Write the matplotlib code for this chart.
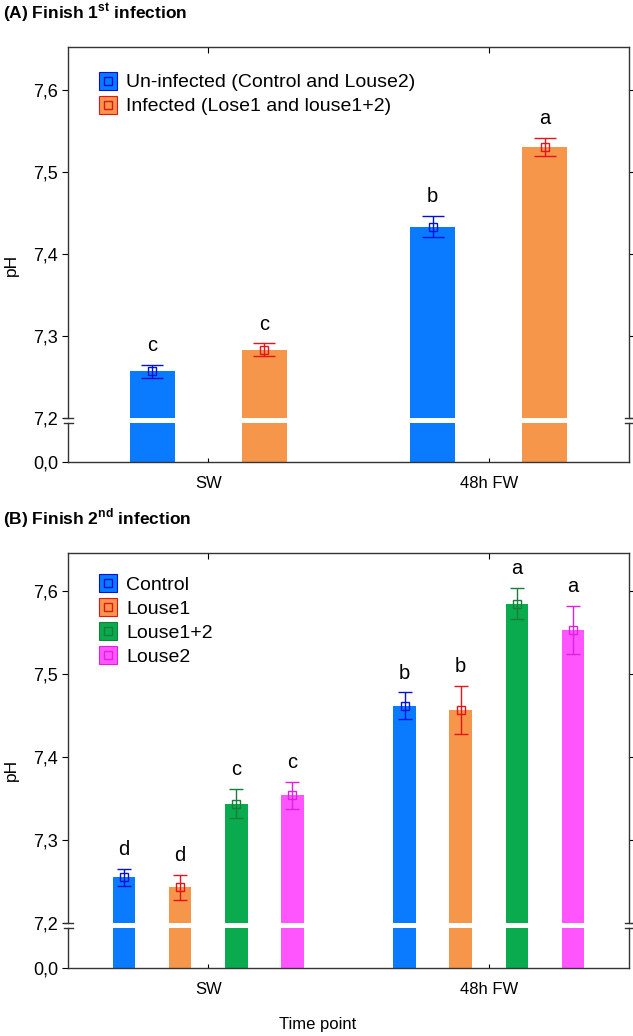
import matplotlib
matplotlib.use("Agg")
import matplotlib.pyplot as plt
import numpy as np
from matplotlib.lines import Line2D
from matplotlib.legend_handler import HandlerTuple
from matplotlib.ticker import FuncFormatter

plt.rcParams['font.family'] = ['Liberation Sans', 'DejaVu Sans']
plt.rcParams['mathtext.fontset'] = 'custom'
plt.rcParams['mathtext.rm'] = 'Liberation Sans'
plt.rcParams['mathtext.bf'] = 'Liberation Sans:bold'

# ---- data ----
groups = ['SW', '48h FW']

a_names = ['Un-infected (Control and Louse2)', 'Infected (Lose1 and louse1+2)']
a_uninf_mean = [7.257, 7.433]
a_uninf_err = [0.008, 0.013]
a_uninf_letters = ['c', 'b']
a_inf_mean = [7.283, 7.530]
a_inf_err = [0.008, 0.011]
a_inf_letters = ['c', 'a']

b_names = ['Control', 'Louse1', 'Louse1+2', 'Louse2']
b_control_mean = [7.255, 7.462]
b_control_err = [0.010, 0.016]
b_control_letters = ['d', 'b']
b_louse1_mean = [7.243, 7.457]
b_louse1_err = [0.015, 0.029]
b_louse1_letters = ['d', 'b']
b_louse12_mean = [7.344, 7.585]
b_louse12_err = [0.018, 0.019]
b_louse12_letters = ['c', 'a']
b_louse2_mean = [7.354, 7.553]
b_louse2_err = [0.016, 0.029]
b_louse2_letters = ['c', 'a']

BAR_COLORS = ['#0A7BFF', '#F5964A', '#0AAA4E', '#FF55FF']
ERR_COLORS = ['#0010D8', '#E5141C', '#1B7D3A', '#E020E0']

W, H = 633, 1036
fig = plt.figure(figsize=(W / 100, H / 100), dpi=100)


def fx(px):
    return px / W


def fy(py):
    return 1 - py / H


def comma(v, pos):
    return ('%.1f' % v).replace('.', ',')


def make_axes(top, brk_top, brk_bot, bottom):
    left, right = 68, 629
    up = fig.add_axes([fx(left), fy(brk_top), fx(right - left), fy(top) - fy(brk_top)])
    lo = fig.add_axes([fx(left), fy(bottom), fx(right - left), fy(brk_bot) - fy(bottom)])
    for ax in (up, lo):
        for s in ax.spines.values():
            s.set_color('#333333')
            s.set_linewidth(1.0)
        ax.set_xlim(-0.5, 1.5)
        ax.set_xticks(range(len(groups)))
    up.spines['bottom'].set_visible(False)
    lo.spines['top'].set_visible(False)
    up.tick_params(axis='x', bottom=False, top=True, labelbottom=False, direction='in', length=4)
    up.tick_params(axis='y', left=True, right=True, direction='out', length=4, labelsize=13, pad=3)
    lo.tick_params(axis='x', bottom=True, top=False, direction='in', length=3, labelsize=12, pad=10)
    lo.tick_params(axis='y', left=True, right=False, direction='out', length=4, labelsize=13, pad=3)
    lo.set_xticklabels(groups)
    up.yaxis.set_major_formatter(FuncFormatter(comma))
    lo.yaxis.set_major_formatter(FuncFormatter(comma))
    lo.set_ylim(0, 1)
    lo.set_yticks([0])
    # break marks
    d = 4.5 / (right - left)
    for xx in (0, 1):
        up.plot([xx - d, xx + d], [0, 0], transform=up.transAxes, color='#333333', lw=1, clip_on=False)
        lo.plot([xx - d, xx + d], [1, 1], transform=lo.transAxes, color='#333333', lw=1, clip_on=False)
    return up, lo


def draw_series(up, lo, offset, width, means, errs, letters, ci, capsize):
    x = np.arange(len(groups)) + offset
    for ax in (up, lo):
        ax.bar(x, means, width=width, color=BAR_COLORS[ci], linewidth=0)
    up.errorbar(x, means, yerr=errs, fmt='s', ms=5.5, mfc='none', mec=ERR_COLORS[ci],
                ecolor=ERR_COLORS[ci], elinewidth=1, capsize=capsize, capthick=1, mew=1)
    for xi, m, e, t in zip(x, means, errs, letters):
        up.annotate(t, (xi, m + e), xytext=(0, 7), textcoords='offset points',
                    ha='center', va='bottom', fontsize=14.5)


def legend_handles(idx):
    hs = []
    for ci in idx:
        big = Line2D([], [], ls='none', marker='s', ms=12.5, mfc=BAR_COLORS[ci], mec=ERR_COLORS[ci], mew=0.8)
        small = Line2D([], [], ls='none', marker='s', ms=5.5, mfc='none', mec=ERR_COLORS[ci], mew=1)
        hs.append((big, small))
    return hs


def add_legend(ax, idx, names, y):
    ax.legend(legend_handles(idx), names, handler_map={tuple: HandlerTuple(ndivide=1, pad=0)},
              loc='upper left', bbox_to_anchor=(0.055, y), frameon=False, fontsize=14,
              handlelength=0.9, handletextpad=0.5, labelspacing=0.33, borderpad=0, borderaxespad=0)


# ---- panel A ----
upA, loA = make_axes(47, 418, 423, 462)
upA.set_ylim(7.2, 7.652)
upA.set_yticks([7.2, 7.3, 7.4, 7.5, 7.6])
draw_series(upA, loA, -0.2, 0.16, a_uninf_mean, a_uninf_err, a_uninf_letters, 0, 8)
draw_series(upA, loA, 0.2, 0.16, a_inf_mean, a_inf_err, a_inf_letters, 1, 8)
add_legend(upA, [0, 1], a_names, 0.928)

# ---- panel B ----
upB, loB = make_axes(553, 923, 928, 968)
upB.set_ylim(7.2, 7.646)
upB.set_yticks([7.2, 7.3, 7.4, 7.5, 7.6])
b_means = [b_control_mean, b_louse1_mean, b_louse12_mean, b_louse2_mean]
b_errs = [b_control_err, b_louse1_err, b_louse12_err, b_louse2_err]
b_lets = [b_control_letters, b_louse1_letters, b_louse12_letters, b_louse2_letters]
for i, off in enumerate([-0.3, -0.1, 0.1, 0.3]):
    draw_series(upB, loB, off, 0.08, b_means[i], b_errs[i], b_lets[i], i, 5)
add_legend(upB, [0, 1, 2, 3], b_names, 0.938)

# ---- texts ----
fig.text(fx(3), fy(13), r'(A) Finish 1$^{\mathbf{st}}$ infection', fontsize=12.5, fontweight='bold',
         ha='left', va='center')
fig.text(fx(3), fy(518), r'(B) Finish 2$^{\mathbf{nd}}$ infection', fontsize=12.5, fontweight='bold',
         ha='left', va='center')
fig.text(fx(11), fy(265), 'pH', rotation=90, fontsize=12.5, ha='center', va='center')
fig.text(fx(11), fy(770), 'pH', rotation=90, fontsize=12.5, ha='center', va='center')
fig.text(fx(318), fy(1025), 'Time point', fontsize=12, ha='center', va='center')

plt.savefig('out.png', dpi=100)
